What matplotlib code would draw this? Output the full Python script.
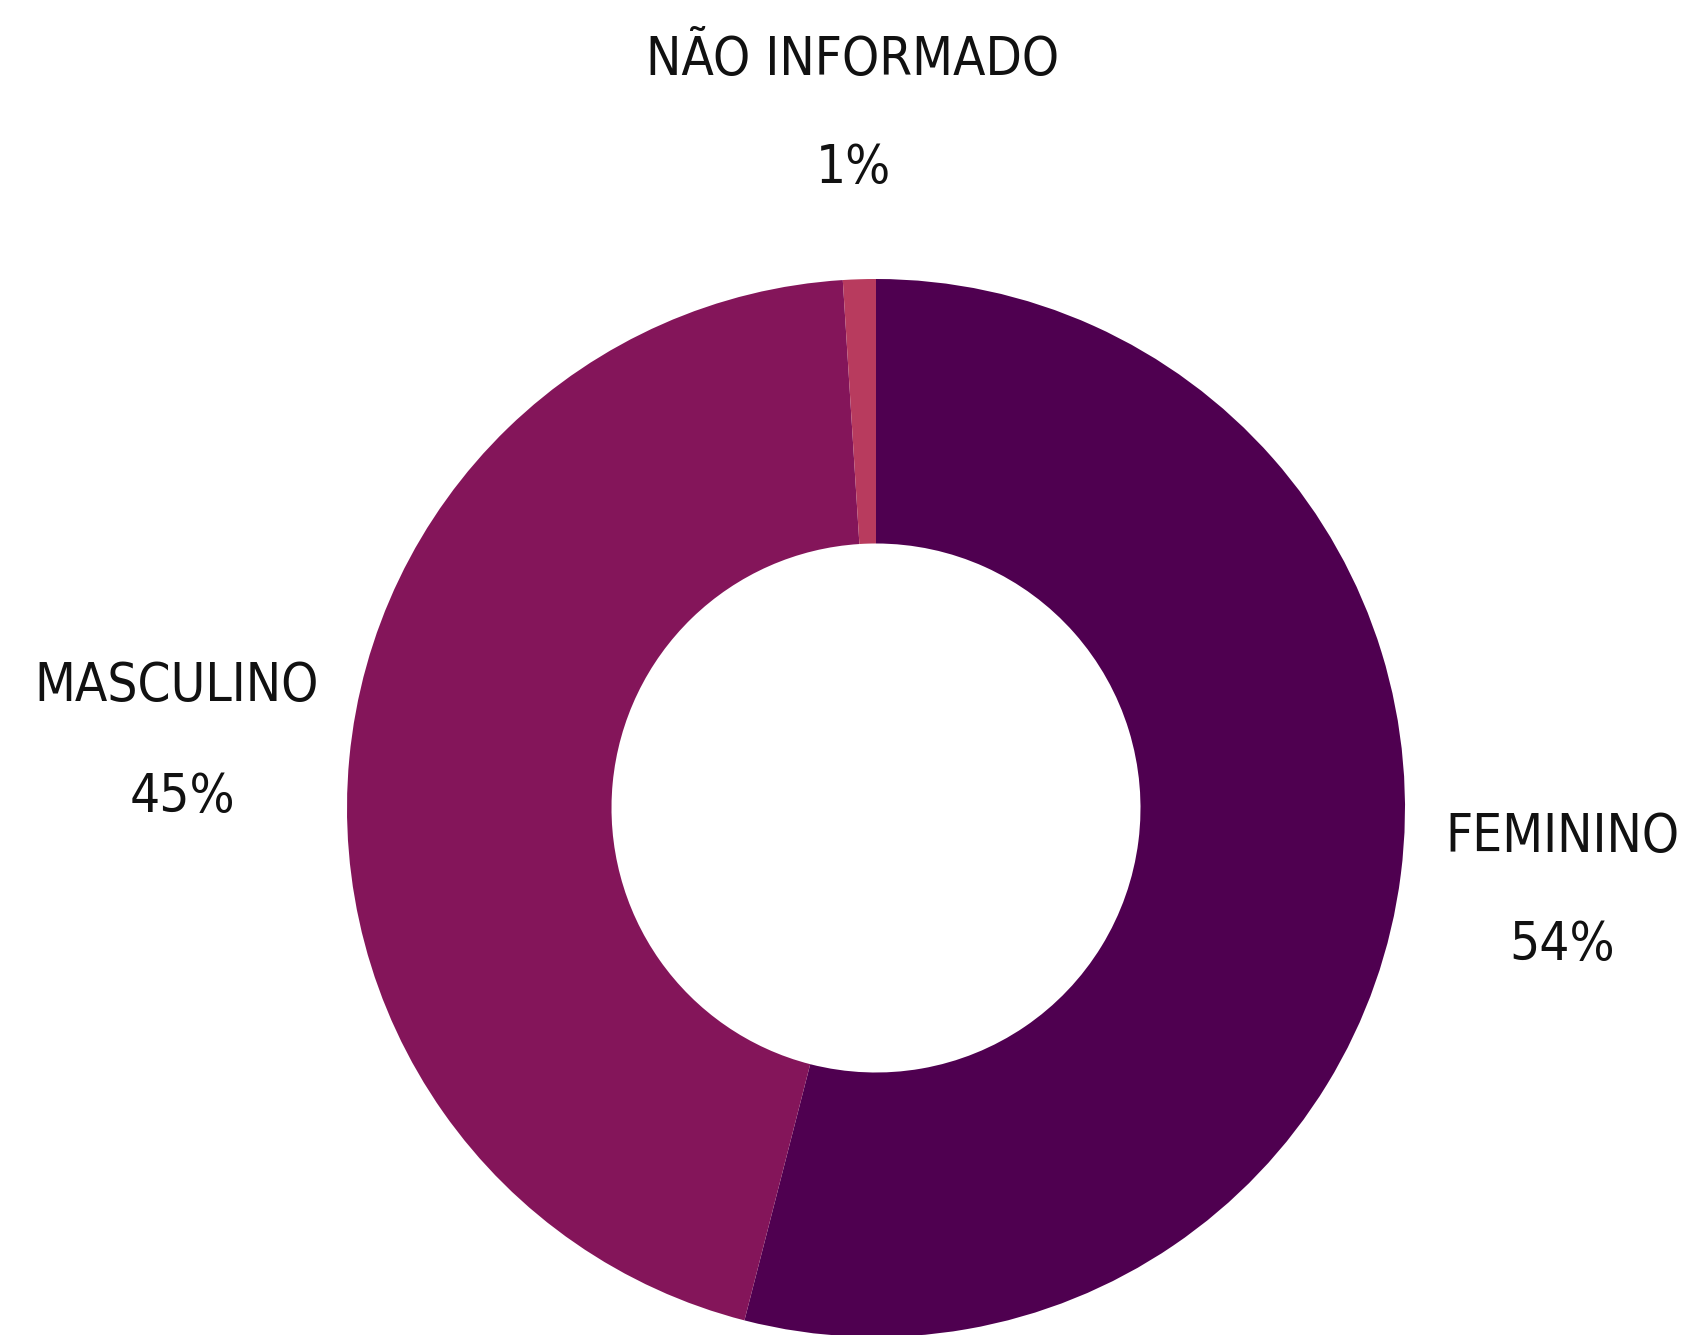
import matplotlib
matplotlib.use("Agg")
import matplotlib.pyplot as plt

categories = ["FEMININO", "MASCULINO", "NÃO INFORMADO"]
values = [54, 45, 1]
pct_labels = ["54%", "45%", "1%"]
colors = ["#4f0050", "#84155a", "#b83b5e"]

W, H = 1700, 1335
cx, cy, R = 876, 808, 529
fig = plt.figure(figsize=(W / 100, H / 100), dpi=100)
ax = fig.add_axes([0, 0, 1, 1])
ax.pie(values, colors=colors, startangle=90, counterclock=False, radius=1,
       wedgeprops=dict(width=0.5, linewidth=0))
ax.set_xlim(-cx / R, (W - cx) / R)
ax.set_ylim(-(H - cy) / R, cy / R)
ax.set_aspect("equal")
ax.axis("off")

pos = {
    "FEMININO": ((1562, 837), (1562, 945)),
    "MASCULINO": ((177, 686), (182, 797)),
    "NÃO INFORMADO": ((853, 60), (853, 168)),
}
font = dict(family="DejaVu Sans", fontstretch="condensed", fontsize=38,
            color="#111111", ha="center", va="center")
for cat, p in zip(categories, pct_labels):
    (x1, y1), (x2, y2) = pos[cat]
    fig.text(x1 / W, 1 - y1 / H, cat, **font)
    fig.text(x2 / W, 1 - y2 / H, p, **font)

fig.savefig("out.png", dpi=100, facecolor="white")
